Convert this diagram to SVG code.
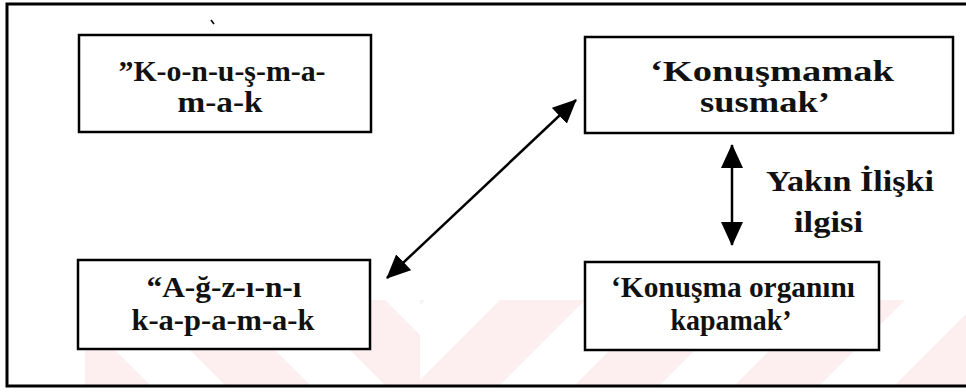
<svg xmlns="http://www.w3.org/2000/svg" width="966" height="392" viewBox="0 0 966 392">
  <style>
    .frame { fill: none; stroke: #000; stroke-width: 3; }
    .box { fill: #fff; stroke: #000; stroke-width: 2.5; }
    .lbl { font-family: "Liberation Serif", "Times New Roman", serif; font-size: 29px; font-weight: bold; fill: #111; text-anchor: middle; }
    .side { font-family: "Liberation Serif", "Times New Roman", serif; font-size: 29px; font-weight: bold; fill: #111; }
    .conn { stroke: #000; stroke-width: 2.5; fill: none; }
  </style>
  <defs>
    <marker id="head" viewBox="0 0 24 22" refX="23" refY="11" markerWidth="24" markerHeight="22" markerUnits="userSpaceOnUse" orient="auto-start-reverse">
      <path d="M0,0 L24,11 L0,22 z" fill="#000"/>
    </marker>
    <pattern id="stripeL" patternUnits="userSpaceOnUse" width="160" height="90" patternTransform="skewX(45)">
      <rect x="0" y="0" width="85" height="90" fill="#fdeef0"/>
    </pattern>
    <pattern id="stripeR" patternUnits="userSpaceOnUse" width="160" height="90" patternTransform="skewX(-45)">
      <rect x="0" y="0" width="85" height="90" fill="#fdeef0"/>
    </pattern>
  </defs>

  <rect width="966" height="392" fill="#fff"/>

  <!-- faint background band of chevron stripes -->
  <g id="band">
    <rect x="85" y="300" width="335" height="86" fill="url(#stripeL)"/>
    <rect x="420" y="300" width="546" height="86" fill="url(#stripeR)"/>
  </g>

  <rect class="frame" x="7" y="4" width="975" height="382"/>

  <g id="connectors">
    <line class="conn" x1="387" y1="278" x2="576" y2="100" marker-start="url(#head)" marker-end="url(#head)"/>
    <line class="conn" x1="732" y1="145" x2="732" y2="245" marker-start="url(#head)" marker-end="url(#head)"/>
  </g>

  <g id="konusmamak-hyphen">
    <rect class="box" x="79" y="35" width="292" height="97"/>
    <text class="lbl" x="222" y="81" textLength="207" lengthAdjust="spacingAndGlyphs">”K-o-n-u-ş-m-a-</text>
    <text class="lbl" x="220" y="112" textLength="85" lengthAdjust="spacingAndGlyphs">m-a-k</text>
  </g>

  <g id="konusmamak-susmak">
    <rect class="box" x="585" y="37" width="368" height="96"/>
    <text class="lbl" x="772" y="81" textLength="244" lengthAdjust="spacingAndGlyphs">‘Konuşmamak</text>
    <text class="lbl" x="765" y="112" textLength="130" lengthAdjust="spacingAndGlyphs">susmak’</text>
  </g>

  <g id="agzini-kapamak">
    <rect class="box" x="78" y="260" width="292" height="89"/>
    <text class="lbl" x="224" y="297" textLength="155" lengthAdjust="spacingAndGlyphs">“A-ğ-z-ı-n-ı</text>
    <text class="lbl" x="223" y="330" textLength="183" lengthAdjust="spacingAndGlyphs">k-a-p-a-m-a-k</text>
  </g>

  <g id="konusma-organini-kapamak">
    <rect class="box" x="585" y="262" width="294" height="88"/>
    <text class="lbl" x="733" y="297" textLength="244" lengthAdjust="spacingAndGlyphs">‘Konuşma organını</text>
    <text class="lbl" x="731" y="330" textLength="121" lengthAdjust="spacingAndGlyphs">kapamak’</text>
  </g>

  <g id="relation-label">
    <text class="side" x="766" y="191" textLength="168" lengthAdjust="spacingAndGlyphs">Yakın İlişki</text>
    <text class="side" x="794" y="232" textLength="69" lengthAdjust="spacingAndGlyphs">ilgisi</text>
  </g>

  <!-- stray mark near the top -->
  <path d="M211,20 L214,24" stroke="#000" stroke-width="1.5"/>
</svg>
